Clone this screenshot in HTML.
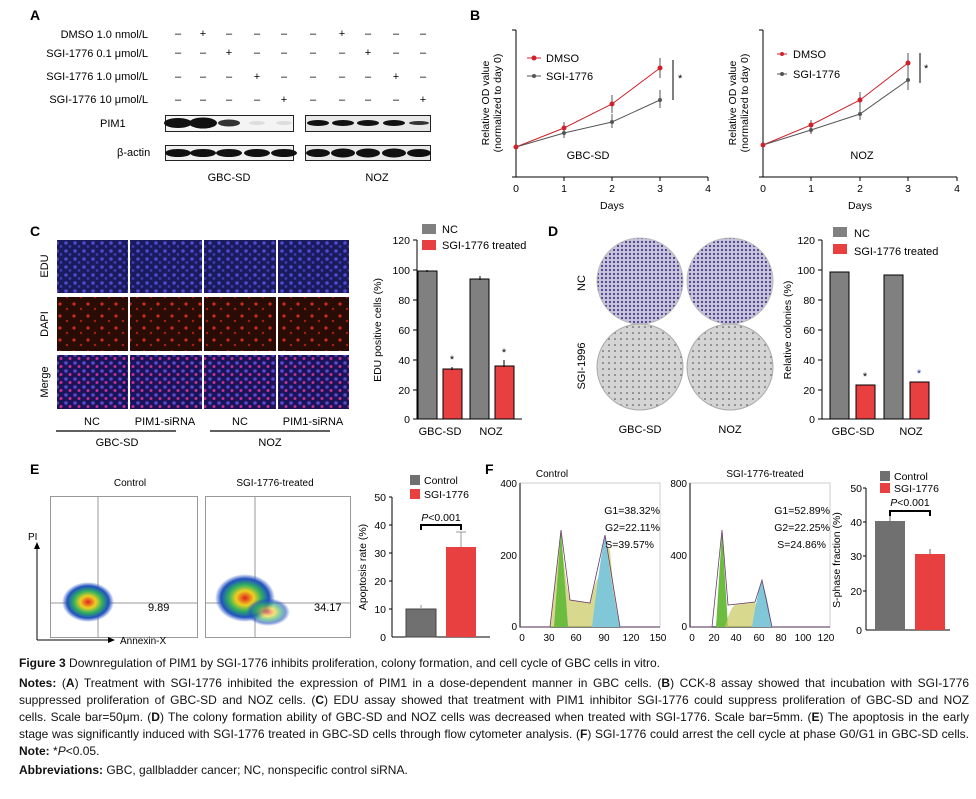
<!DOCTYPE html>
<html><head><meta charset="utf-8"><style>
body{margin:0;background:#fff;}
svg text{font-family:"Liberation Sans",sans-serif;}
.cap{position:absolute;left:19px;width:950px;font-family:"Liberation Sans",sans-serif;font-size:12px;line-height:17px;color:#111;text-align:justify;}
.ln{text-align:justify;text-align-last:justify;white-space:nowrap;overflow:visible;}
.ln2{white-space:nowrap;}
</style></head><body>
<div style="position:relative;width:976px;height:799px;overflow:hidden">
<svg width="976" height="660" style="position:absolute;left:0;top:0" font-size="11">
<defs>
<pattern id="blue" width="9" height="8" patternUnits="userSpaceOnUse"><rect width="9" height="8" fill="#1a1a5c"/><circle cx="3" cy="3" r="1.8" fill="#4b4bd0"/><circle cx="7" cy="6.5" r="1.4" fill="#3c3cb8"/></pattern>
<pattern id="red" width="14" height="12" patternUnits="userSpaceOnUse"><rect width="14" height="12" fill="#2a0c06"/><circle cx="4" cy="4" r="1.6" fill="#d02a1a"/><circle cx="11" cy="9" r="1.2" fill="#a81e12"/></pattern>
<pattern id="merge" width="9" height="8" patternUnits="userSpaceOnUse"><rect width="9" height="8" fill="#1c1458"/><circle cx="3" cy="3" r="1.8" fill="#5a48d0"/><circle cx="7" cy="6.5" r="1.5" fill="#c03098"/></pattern>
<pattern id="col" width="4" height="4" patternUnits="userSpaceOnUse"><rect width="4" height="4" fill="#c8c4dc"/><circle cx="2" cy="2" r="1.1" fill="#4a3a8a"/></pattern>
<pattern id="col2" width="6" height="6" patternUnits="userSpaceOnUse"><rect width="6" height="6" fill="#d4d4d4"/><circle cx="3" cy="3" r="0.8" fill="#444"/></pattern>
<radialGradient id="hot"><stop offset="0" stop-color="#e02020"/><stop offset="0.3" stop-color="#f0d020"/><stop offset="0.55" stop-color="#30b060"/><stop offset="0.8" stop-color="#2050c0"/><stop offset="1" stop-color="#2050c0" stop-opacity="0"/></radialGradient>
</defs>
<text x="30" y="20" font-size="14" font-weight="bold">A</text>
<g text-anchor="end" font-size="11"><text x="148" y="38">DMSO 1.0 nmol/L</text><text x="148" y="57">SGI-1776 0.1 μmol/L</text><text x="148" y="80">SGI-1776 1.0 μmol/L</text><text x="148" y="103">SGI-1776 10 μmol/L</text></g>
<g font-size="11" text-anchor="middle">
<text x="178" y="37">–</text><text x="203" y="37">+</text><text x="229" y="37">–</text><text x="257" y="37">–</text><text x="284" y="37">–</text><text x="313" y="37">–</text><text x="342" y="37">+</text><text x="368" y="37">–</text><text x="396" y="37">–</text><text x="423" y="37">–</text>
<text x="178" y="56">–</text><text x="203" y="56">–</text><text x="229" y="56">+</text><text x="257" y="56">–</text><text x="284" y="56">–</text><text x="313" y="56">–</text><text x="342" y="56">–</text><text x="368" y="56">+</text><text x="396" y="56">–</text><text x="423" y="56">–</text>
<text x="178" y="80">–</text><text x="203" y="80">–</text><text x="229" y="80">–</text><text x="257" y="80">+</text><text x="284" y="80">–</text><text x="313" y="80">–</text><text x="342" y="80">–</text><text x="368" y="80">–</text><text x="396" y="80">+</text><text x="423" y="80">–</text>
<text x="178" y="103">–</text><text x="203" y="103">–</text><text x="229" y="103">–</text><text x="257" y="103">–</text><text x="284" y="103">+</text><text x="313" y="103">–</text><text x="342" y="103">–</text><text x="368" y="103">–</text><text x="396" y="103">–</text><text x="423" y="103">+</text>
</g>
<text x="100" y="127">PIM1</text><text x="117" y="156">β-actin</text>
<rect x="165.5" y="115.5" width="128" height="16" fill="#f4f4f4" stroke="#222"/>
<rect x="305.5" y="115.5" width="125" height="16" fill="#e8e8e8" stroke="#222"/>
<rect x="165.5" y="145.5" width="128" height="15" fill="#f0f0f0" stroke="#222"/>
<rect x="305.5" y="145.5" width="125" height="15" fill="#e8e8e8" stroke="#222"/>
<g fill="#111"><ellipse cx="178" cy="123" rx="14" ry="5"/><ellipse cx="203" cy="123" rx="14" ry="5.5"/><ellipse cx="229" cy="123" rx="11" ry="3.5" fill="#333"/><ellipse cx="257" cy="123" rx="8" ry="2" fill="#ddd"/><ellipse cx="284" cy="123" rx="8" ry="2" fill="#ddd"/>
<ellipse cx="318" cy="123" rx="11" ry="3"/><ellipse cx="343" cy="123" rx="11" ry="3"/><ellipse cx="368" cy="123" rx="11" ry="3"/><ellipse cx="394" cy="123" rx="11" ry="3"/><ellipse cx="419" cy="123" rx="10" ry="2" fill="#333"/>
<ellipse cx="178" cy="153" rx="13" ry="4"/><ellipse cx="203" cy="153" rx="13" ry="4"/><ellipse cx="229" cy="153" rx="13" ry="4"/><ellipse cx="257" cy="153" rx="13" ry="4"/><ellipse cx="284" cy="153" rx="13" ry="4"/>
<ellipse cx="318" cy="153" rx="12" ry="4"/><ellipse cx="343" cy="153" rx="12" ry="4.5"/><ellipse cx="368" cy="153" rx="12" ry="4.5"/><ellipse cx="394" cy="153" rx="12" ry="4.5"/><ellipse cx="419" cy="153" rx="12" ry="4"/></g>
<text x="229" y="181" text-anchor="middle">GBC-SD</text><text x="377" y="181" text-anchor="middle">NOZ</text>

<text x="470" y="20" font-size="14" font-weight="bold">B</text>
<g stroke="#000" fill="none"><path d="M516 30V177H708M564 177v4M612 177v4M660 177v4M708 177v4M516 177h-4M516 30h-4"/>
<path d="M763 30V177H957M811 177v4M860 177v4M908 177v4M957 177v4M763 177h-4M763 30h-4"/></g>
<g text-anchor="middle" font-size="10.5"><text x="516" y="192">0</text><text x="564" y="192">1</text><text x="612" y="192">2</text><text x="660" y="192">3</text><text x="708" y="192">4</text><text x="612" y="209">Days</text>
<text x="763" y="192">0</text><text x="811" y="192">1</text><text x="860" y="192">2</text><text x="908" y="192">3</text><text x="957" y="192">4</text><text x="860" y="209">Days</text></g>
<text transform="translate(489,103) rotate(-90)" text-anchor="middle" font-size="10.5">Relative OD value</text>
<text transform="translate(501,103) rotate(-90)" text-anchor="middle" font-size="10.5">(normalized to day 0)</text>
<text transform="translate(736,103) rotate(-90)" text-anchor="middle" font-size="10.5">Relative OD value</text>
<text transform="translate(748,103) rotate(-90)" text-anchor="middle" font-size="10.5">(normalized to day 0)</text>
<g fill="none" stroke-width="1">
<polyline points="516,147 564,128 612,104 660,68" stroke="#d0202a"/><polyline points="516,147 564,133 612,122 660,100" stroke="#555"/>
<polyline points="763,145 811,125 860,100 908,63" stroke="#d0202a"/><polyline points="763,145 811,130 860,114 908,80" stroke="#555"/>
<path d="M564 122v12M612 95v18M660 58v20M564 128v10M612 114v14M660 90v18M811 120v10M860 92v16M908 53v20M811 126v8M860 108v12M908 70v20" stroke="#555"/>
<path d="M673 60v40M920 53v30" stroke="#000"/></g>
<g fill="#d0202a"><circle cx="516" cy="147" r="2.5"/><circle cx="564" cy="128" r="2.5"/><circle cx="612" cy="104" r="2.5"/><circle cx="660" cy="68" r="2.5"/><circle cx="763" cy="145" r="2.5"/><circle cx="811" cy="125" r="2.5"/><circle cx="860" cy="100" r="2.5"/><circle cx="908" cy="63" r="2.5"/></g>
<g fill="#555"><circle cx="564" cy="133" r="2"/><circle cx="612" cy="122" r="2"/><circle cx="660" cy="100" r="2"/><circle cx="811" cy="130" r="2"/><circle cx="860" cy="114" r="2"/><circle cx="908" cy="80" r="2"/></g>
<text x="678" y="82">*</text><text x="924" y="72">*</text>
<path d="M527 58h14" stroke="#d0202a"/><circle cx="534" cy="58" r="2.5" fill="#d0202a"/><text x="546" y="62">DMSO</text>
<path d="M527 76h14" stroke="#555"/><circle cx="534" cy="76" r="2" fill="#555"/><text x="546" y="80">SGI-1776</text>
<path d="M777 54h10" stroke="#d0202a"/><circle cx="782" cy="54" r="2" fill="#d0202a"/><text x="793" y="58">DMSO</text>
<path d="M777 74h10" stroke="#555"/><circle cx="782" cy="74" r="2" fill="#555"/><text x="793" y="78">SGI-1776</text>
<text x="588" y="159" text-anchor="middle">GBC-SD</text><text x="862" y="159" text-anchor="middle">NOZ</text>

<text x="30" y="236" font-size="14" font-weight="bold">C</text>
<g><rect x="57" y="240" width="71" height="53" fill="url(#blue)"/><rect x="130" y="240" width="72" height="53" fill="url(#blue)"/><rect x="204" y="240" width="72" height="53" fill="url(#blue)"/><rect x="278" y="240" width="71" height="53" fill="url(#blue)"/>
<rect x="57" y="297" width="71" height="54" fill="url(#red)"/><rect x="130" y="297" width="72" height="54" fill="url(#red)"/><rect x="204" y="297" width="72" height="54" fill="url(#red)"/><rect x="278" y="297" width="71" height="54" fill="url(#red)"/>
<rect x="57" y="355" width="71" height="54" fill="url(#merge)"/><rect x="130" y="355" width="72" height="54" fill="url(#merge)"/><rect x="204" y="355" width="72" height="54" fill="url(#merge)"/><rect x="278" y="355" width="71" height="54" fill="url(#merge)"/></g>
<text transform="translate(48,266) rotate(-90)" text-anchor="middle">EDU</text>
<text transform="translate(48,324) rotate(-90)" text-anchor="middle">DAPI</text>
<text transform="translate(48,382) rotate(-90)" text-anchor="middle">Merge</text>
<g text-anchor="middle"><text x="92" y="425">NC</text><text x="165" y="425">PIM1-siRNA</text><text x="240" y="425">NC</text><text x="313" y="425">PIM1-siRNA</text><text x="117" y="446">GBC-SD</text><text x="270" y="446">NOZ</text></g>
<path d="M56 431h120M210 431h120" stroke="#000" stroke-width="1.2"/>
<g stroke="#000" fill="none"><path d="M417 240V419H522M417 240h-4M417 270h-4M417 300h-4M417 330h-4M417 360h-4M417 390h-4M417 419h-4"/></g>
<g text-anchor="end" font-size="10.5"><text x="410" y="244">120</text><text x="410" y="274">100</text><text x="410" y="304">80</text><text x="410" y="334">60</text><text x="410" y="364">40</text><text x="410" y="394">20</text><text x="410" y="423">0</text></g>
<text transform="translate(381,330) rotate(-90)" text-anchor="middle" font-size="10.5">EDU positive cells (%)</text>
<g stroke="#000"><rect x="418" y="271" width="19" height="148" fill="#808080"/><rect x="443" y="369" width="19" height="50" fill="#e84040"/><rect x="470" y="279" width="19" height="140" fill="#808080"/><rect x="495" y="366" width="19" height="53" fill="#e84040"/>
<path d="M427 270v2M452 367v3M480 276v4M504 360v7" fill="none"/></g>
<text x="452" y="363" text-anchor="middle">*</text><text x="504" y="356" text-anchor="middle">*</text>
<rect x="422" y="224" width="14" height="10" fill="#808080"/><text x="442" y="233">NC</text>
<rect x="422" y="240" width="14" height="10" fill="#e84040"/><text x="442" y="249">SGI-1776 treated</text>
<text x="440" y="435" text-anchor="middle">GBC-SD</text><text x="491" y="435" text-anchor="middle">NOZ</text>

<text x="548" y="236" font-size="14" font-weight="bold">D</text>
<circle cx="640" cy="281" r="43" fill="url(#col)" stroke="#bbb"/><circle cx="730" cy="281" r="43" fill="url(#col)" stroke="#bbb"/>
<circle cx="640" cy="367" r="43" fill="url(#col2)" stroke="#aaa"/><circle cx="730" cy="367" r="43" fill="url(#col2)" stroke="#aaa"/>
<text transform="translate(585,283) rotate(-90)" text-anchor="middle">NC</text>
<text transform="translate(585,366) rotate(-90)" text-anchor="middle">SGI-1996</text>
<text x="640" y="433" text-anchor="middle">GBC-SD</text><text x="730" y="433" text-anchor="middle">NOZ</text>
<g stroke="#000" fill="none"><path d="M822 240V419H927M822 240h-4M822 270h-4M822 300h-4M822 330h-4M822 360h-4M822 390h-4M822 419h-4"/></g>
<g text-anchor="end" font-size="10.5"><text x="815" y="244">120</text><text x="815" y="274">100</text><text x="815" y="304">80</text><text x="815" y="334">60</text><text x="815" y="364">40</text><text x="815" y="394">20</text><text x="815" y="423">0</text></g>
<text transform="translate(791,330) rotate(-90)" text-anchor="middle" font-size="10.5">Relative colonies (%)</text>
<g stroke="#000"><rect x="830" y="272" width="19" height="147" fill="#808080"/><rect x="856" y="385" width="19" height="34" fill="#e84040"/><rect x="884" y="275" width="19" height="144" fill="#808080"/><rect x="910" y="382" width="19" height="37" fill="#e84040"/></g>
<text x="865" y="380" text-anchor="middle">*</text><text x="919" y="377" text-anchor="middle" fill="#23a">*</text>
<rect x="833" y="227" width="14" height="10" fill="#808080"/><text x="854" y="237">NC</text>
<rect x="833" y="244" width="14" height="10" fill="#e84040"/><text x="854" y="255">SGI-1776 treated</text>
<text x="853" y="435" text-anchor="middle">GBC-SD</text><text x="911" y="435" text-anchor="middle">NOZ</text>

<text x="30" y="474" font-size="14" font-weight="bold">E</text>
<text x="130" y="486" text-anchor="middle" font-size="10">Control</text><text x="275" y="486" text-anchor="middle" font-size="10">SGI-1776-treated</text>
<rect x="50.5" y="496.5" width="147" height="141" fill="none" stroke="#999"/><rect x="205.5" y="496.5" width="145" height="141" fill="none" stroke="#999"/>
<path d="M98 497v140M50 603h147M255 497v140M205 603h145" stroke="#999"/>
<ellipse cx="88" cy="602" rx="26" ry="20" fill="url(#hot)"/><ellipse cx="245" cy="598" rx="30" ry="24" fill="url(#hot)"/><ellipse cx="268" cy="612" rx="22" ry="14" fill="url(#hot)" opacity="0.6"/>
<text x="148" y="611" font-size="11">9.89</text><text x="314" y="611" font-size="11">34.17</text>
<path d="M37 640V545M37 640h75" stroke="#000"/><path d="M34 549l3-7 3 7z M108 637l7 3-7 3z"/>
<text x="28" y="540" font-size="10">PI</text><text x="120" y="644" font-size="10">Annexin-X</text>
<g stroke="#000" fill="none"><path d="M392 497V637M392 497h-3M392 525h-3M392 553h-3M392 581h-3M392 609h-3M392 637H490"/></g>
<g text-anchor="end" font-size="10.5"><text x="386" y="501">50</text><text x="386" y="529">40</text><text x="386" y="557">30</text><text x="386" y="585">20</text><text x="386" y="613">10</text><text x="386" y="641">0</text></g>
<text transform="translate(366,567) rotate(-90)" text-anchor="middle" font-size="10.5">Apoptosis rate (%)</text>
<rect x="406" y="609" width="30" height="28" fill="#707070" stroke="#444"/><rect x="446" y="547" width="30" height="90" fill="#e84040"/>
<path d="M461 547v-15M456 532h10M421 608v-3" stroke="#999"/>
<path d="M421 530v-5h40v5" stroke="#000" stroke-width="2" fill="none"/>
<text x="441" y="521" text-anchor="middle" font-size="10.5"><tspan font-style="italic">P</tspan>&lt;0.001</text>
<rect x="410" y="475" width="10" height="10" fill="#707070"/><text x="424" y="484" font-size="10.5">Control</text>
<rect x="410" y="489" width="10" height="10" fill="#e84040"/><text x="424" y="498" font-size="10.5">SGI-1776</text>

<text x="485" y="474" font-size="14" font-weight="bold">F</text>
<text x="552" y="477" text-anchor="middle" font-size="10">Control</text><text x="765" y="477" text-anchor="middle" font-size="10">SGI-1776-treated</text>
<path d="M520 483V627H660V483Z" fill="none" stroke="#ccc"/><path d="M690 483V627H830V483Z" fill="none" stroke="#ccc"/>
<path d="M520 483V627H660" fill="none" stroke="#000"/><path d="M690 483V627H830" fill="none" stroke="#000"/>
<path d="M550 627Q558 560 561 532Q565 580 570 600L590 603Q598 570 600 580Q606 540 610 550Q614 600 620 627Z" fill="#c8c860" opacity="0.7"/>
<path d="M554 627L561 530L568 627Z" fill="#6cbc40"/><path d="M592 627Q600 560 605 535Q612 590 620 627Z" fill="#80c8d8"/>
<path d="M520 627H550L561 530L570 600L590 603L605 535L620 627H660" fill="none" stroke="#6a3a6a" stroke-width="0.8"/>
<path d="M716 627L722 530L728 627Z" fill="#6cbc40"/><path d="M725 627Q730 608 735 605L755 602L765 627Z" fill="#c8c860" opacity="0.7"/><path d="M752 627Q758 590 762 580Q768 600 772 627Z" fill="#80c8d8"/>
<path d="M690 627H712L722 530L728 605L755 602L762 580L772 627H830" fill="none" stroke="#6a3a6a" stroke-width="0.8"/>
<g text-anchor="end" font-size="10"><text x="517" y="487">400</text><text x="517" y="559">200</text><text x="517" y="630">0</text><text x="687" y="487">800</text><text x="687" y="559">400</text><text x="687" y="630">0</text></g>
<g text-anchor="middle" font-size="10"><text x="522" y="641">0</text><text x="549" y="641">30</text><text x="576" y="641">60</text><text x="604" y="641">90</text><text x="631" y="641">120</text><text x="658" y="641">150</text>
<text x="692" y="641">0</text><text x="714" y="641">20</text><text x="736" y="641">40</text><text x="759" y="641">60</text><text x="781" y="641">80</text><text x="803" y="641">100</text><text x="826" y="641">120</text></g>
<g text-anchor="end" font-size="10.5"><text x="660" y="514">G1=38.32%</text><text x="660" y="531">G2=22.11%</text><text x="654" y="548">S=39.57%</text><text x="830" y="514">G1=52.89%</text><text x="830" y="531">G2=22.25%</text><text x="826" y="548">S=24.86%</text></g>
<g stroke="#000" fill="none"><path d="M866 488V630M866 488h-3M866 522h-3M866 556h-3M866 591h-3M866 630H950"/></g>
<g text-anchor="end" font-size="10.5"><text x="862" y="492">50</text><text x="862" y="526">40</text><text x="862" y="560">30</text><text x="862" y="595">20</text><text x="862" y="634">0</text></g>
<text transform="translate(840,560) rotate(-90)" text-anchor="middle" font-size="10.5">S-phase fraction (%)</text>
<rect x="875" y="521" width="30" height="109" fill="#707070"/><rect x="915" y="554" width="30" height="76" fill="#e84040"/>
<path d="M890 521v-5M930 554v-5" stroke="#666"/>
<path d="M890 516v-5h40v5" stroke="#000" stroke-width="2" fill="none"/>
<text x="910" y="506" text-anchor="middle" font-size="10.5"><tspan font-style="italic">P</tspan>&lt;0.001</text>
<rect x="880" y="471" width="10" height="10" fill="#707070"/><text x="894" y="480" font-size="10.5">Control</text>
<rect x="880" y="483" width="10" height="10" fill="#e84040"/><text x="894" y="492" font-size="10.5">SGI-1776</text>
</svg>
<div class="cap" style="top:655px"><b>Figure 3</b> Downregulation of PIM1 by SGI-1776 inhibits proliferation, colony formation, and cell cycle of GBC cells in vitro.</div>
<div class="cap ln" style="top:675px"><b>Notes:</b> (<b>A</b>) Treatment with SGI-1776 inhibited the expression of PIM1 in a dose-dependent manner in GBC cells. (<b>B</b>) CCK-8 assay showed that incubation with SGI-1776</div>
<div class="cap ln" style="top:692px">suppressed proliferation of GBC-SD and NOZ cells. (<b>C</b>) EDU assay showed that treatment with PIM1 inhibitor SGI-1776 could suppress proliferation of GBC-SD and NOZ</div>
<div class="cap ln" style="top:709px">cells. Scale bar=50μm. (<b>D</b>) The colony formation ability of GBC-SD and NOZ cells was decreased when treated with SGI-1776. Scale bar=5mm. (<b>E</b>) The apoptosis in the early</div>
<div class="cap ln" style="top:726px">stage was significantly induced with SGI-1776 treated in GBC-SD cells through flow cytometer analysis. (<b>F</b>) SGI-1776 could arrest the cell cycle at phase G0/G1 in GBC-SD cells.</div>
<div class="cap ln2" style="top:743px"><b>Note:</b> *<i>P</i>&lt;0.05.</div>
<div class="cap ln2" style="top:762px"><b>Abbreviations:</b> GBC, gallbladder cancer; NC, nonspecific control siRNA.</div>
</div>
</body></html>
